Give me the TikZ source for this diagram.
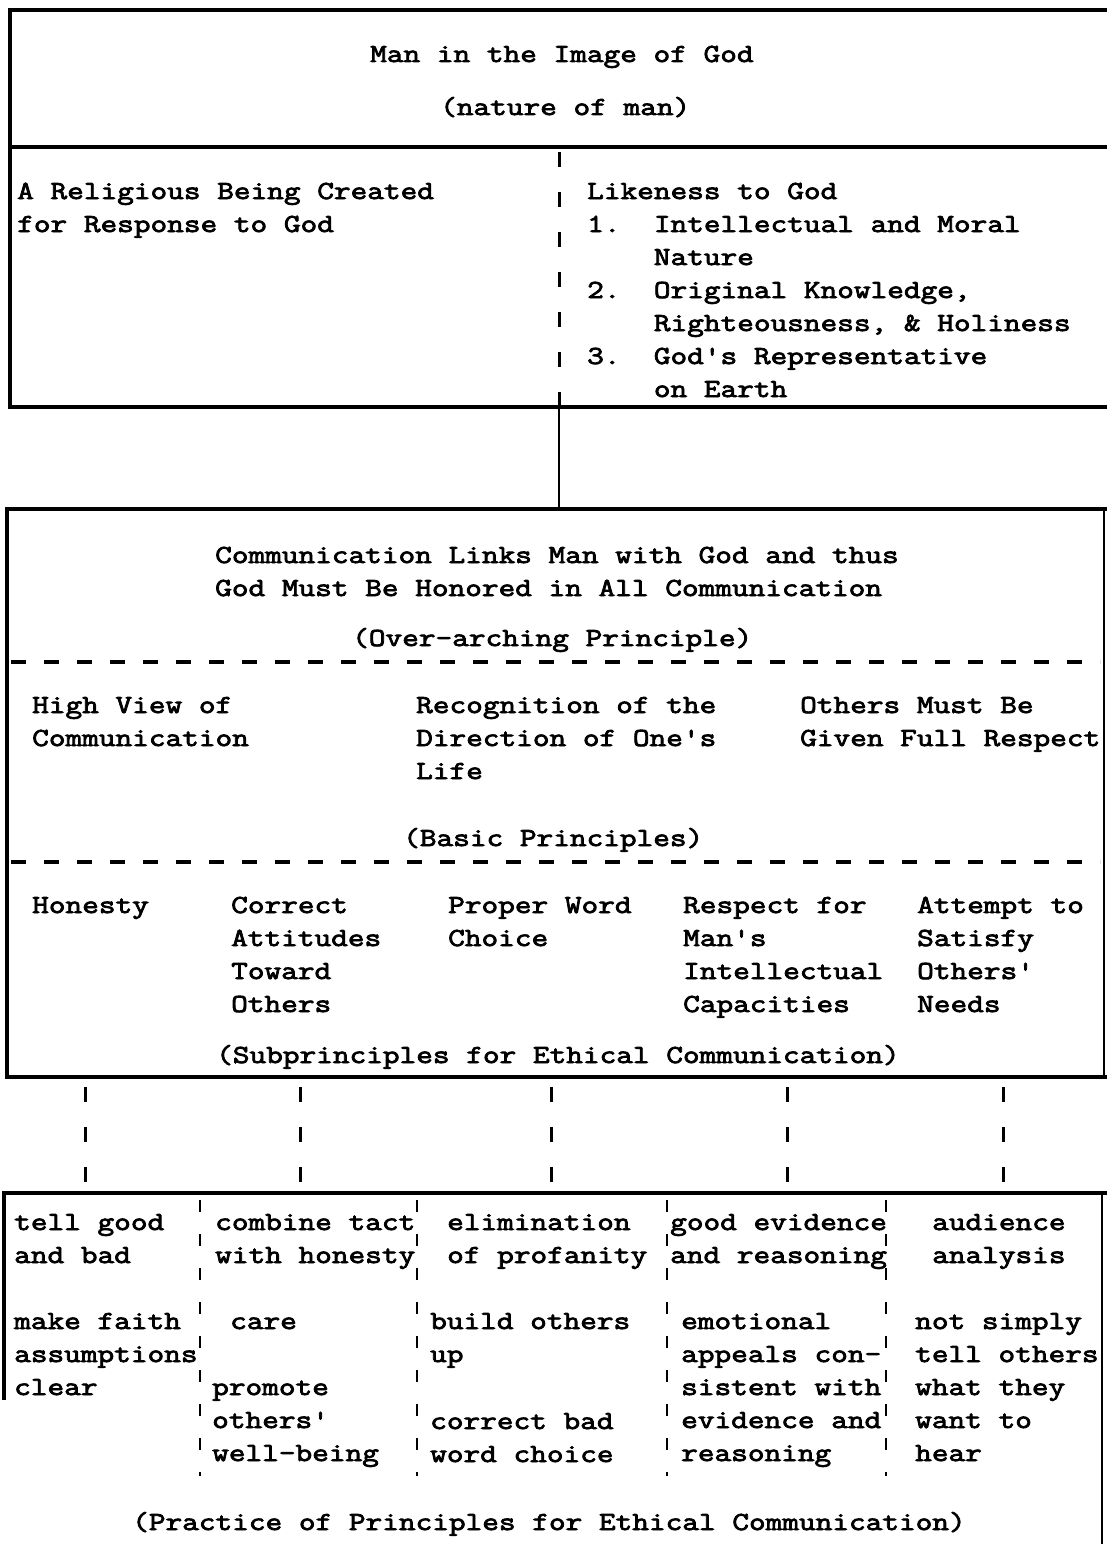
\documentclass[tikz,border=0pt]{standalone}
\usepackage{fontspec}
\newfontfamily\tw{Latin Modern Mono}[FakeStretch=1.245,FakeBold=3]
\tikzset{
  frame/.style={line width=3.4pt},
  thinframe/.style={line width=2pt},
  hdash/.style={line width=3.8pt, dash pattern=on 15pt off 18pt},
  vdash/.style={line width=3pt, dash pattern=on 15pt off 25pt},
  sepdash/.style={line width=2.6pt, dash pattern=on 12pt off 22pt},
  txt/.style={anchor=base west, inner sep=0pt, align=left, font=\tw\fontsize{26}{33}\selectfont},
}
\begin{document}
\begin{tikzpicture}[x=1pt,y=-1pt]
\useasboundingbox[fill=white] (0,0) rectangle (1107,1544);
% top box
\draw[frame] (1107,10) -- (10,10) -- (10,407) -- (1107,407);
\draw[frame] (10,147) -- (1107,147);
\coordinate (topdash) at (559,152);
\coordinate (topbot) at (559,407);
\coordinate (midtop) at (559,509);
\draw[vdash] (topdash) -- (topbot);
\draw[thinframe] (topbot) -- (midtop);
% middle box
\draw[frame] (1107,509) -- (7,509) -- (7,1077) -- (1107,1077);
\draw[thinframe] (1104,509) -- (1104,1077);
\draw[hdash] (11,662) -- (1100,662);
\draw[hdash] (11,862) -- (1100,862);
% connectors between middle and bottom box
\foreach \x/\n in {85/a,300/b,551/c,787/d,1003/e}{
  \coordinate (u\n) at (\x,1087);
  \coordinate (v\n) at (\x,1185);
  \draw[vdash] (u\n) -- (v\n);
}
% bottom box
\draw[frame] (4,1400) -- (4,1193) -- (1107,1193);
\draw[thinframe] (1102,1193) -- (1102,1544);
\foreach \x/\n in {200/a,417/b,667/c,886/d}{
  \coordinate (p\n) at (\x,1200);
  \coordinate (q\n) at (\x,1476);
  \draw[sepdash] (p\n) -- (q\n);
}
% texts (anchor = baseline of the last line)
\node[txt] (t1) at (370,62) {Man in the Image of God};
\node[txt] (t2) at (440,115) {(nature of man)};
\node[txt] (l1) at (17,232) {A Religious Being Created\\for Response to God};
\node[txt] (r1) at (587,397) {Likeness to God\\1.~~Intellectual and Moral\\\phantom{1.~~}Nature\\2.~~Original Knowledge,\\\phantom{2.~~}Righteousness, \& Holiness\\3.~~God's Representative\\\phantom{3.~~}on Earth};
\node[txt] (c1) at (215,596) {Communication Links Man with God and thus\\God Must Be Honored in All Communication};
\node[txt] (c2) at (352,646) {(Over-arching Principle)};
\node[txt] (b1) at (32,746) {High View of\\Communication};
\node[txt] (b2) at (416,779) {Recognition of the\\Direction of One's\\Life};
\node[txt] (b3) at (800,746) {Others Must Be\\Given Full Respect};
\node[txt] (bp) at (403,846) {(Basic Principles)};
\node[txt] (s1) at (32,913) {Honesty};
\node[txt] (s2) at (231,1012) {Correct\\Attitudes\\Toward\\Others};
\node[txt] (s3) at (448,946) {Proper Word\\Choice};
\node[txt] (s4) at (683,1012) {Respect for\\Man's\\Intellectual\\Capacities};
\node[txt] (s5) at (917,1012) {Attempt to\\Satisfy\\Others'\\Needs};
\node[txt] (sp) at (216,1063) {(Subprinciples for Ethical Communication)};
\node[txt] (k1a) at (14,1263) {tell good\\and bad};
\node[txt] (k1b) at (14,1395) {make faith\\assumptions\\clear};
\node[txt] (k2a) at (215,1263) {combine tact\\with honesty};
\node[txt] (k2b) at (230,1329) {care};
\node[txt] (k2c) at (212,1461) {promote\\others'\\well-being};
\node[txt] (k3a) at (447,1263) {elimination\\of profanity};
\node[txt] (k3b) at (430,1362) {build others\\up};
\node[txt] (k3c) at (430,1462) {correct bad\\word choice};
\node[txt] (k4a) at (670,1263) {good evidence\\and reasoning};
\node[txt] (k4b) at (681,1461) {emotional\\appeals con-\\sistent with\\evidence and\\reasoning};
\node[txt] (k5a) at (932,1263) {audience\\analysis};
\node[txt] (k5b) at (915,1461) {not simply\\tell others\\what they\\want to\\hear};
\node[txt] (pp) at (132,1530) {(Practice of Principles for Ethical Communication)};
\end{tikzpicture}
\end{document}
